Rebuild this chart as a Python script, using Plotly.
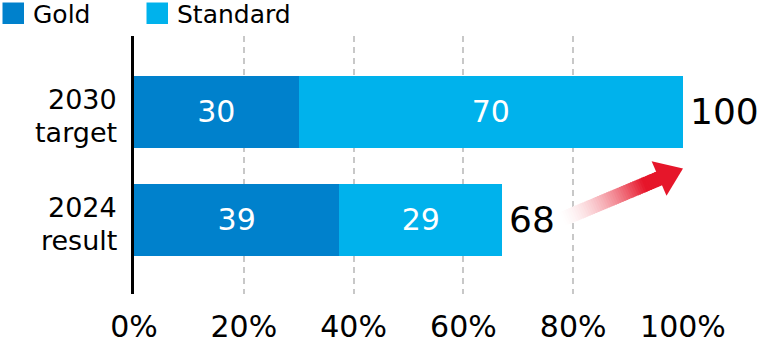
import numpy as np
import plotly.graph_objects as go

# ---------------- data ----------------
category_line1 = ["2030", "2024"]
category_line2 = ["target", "result"]
series_names = ["Gold", "Standard"]
gold_values = [30.0, 37.4]
standard_values = [70.0, 29.7]
gold_labels = ["30", "39"]
standard_labels = ["70", "29"]
total_labels = ["100", "68"]
x_ticks = [0, 20, 40, 60, 80, 100]
x_tick_labels = ["0%", "20%", "40%", "60%", "80%", "100%"]

# ---------------- style ----------------
FONT = "DejaVu Sans"
colors = ["#0081CC", "#00B2EC"]
RED = (230, 22, 42)
W, H = 760, 356
ML, MR, MT, MB = 134, 77, 36, 59
YR = [-0.686, 1.702]
PW, PH = W - ML - MR, H - MT - MB

n = len(category_line1)
ypos = [n - 1 - i for i in range(n)]
totals = [g + s for g, s in zip(gold_values, standard_values)]

fig = go.Figure()
fig.add_trace(go.Bar(
    y=ypos, x=gold_values, orientation="h", name=series_names[0],
    marker=dict(color=colors[0], line=dict(width=0)), width=0.66,
    text=gold_labels, texttemplate="%{text}", textposition="inside",
    insidetextanchor="middle", textangle=0,
    textfont=dict(family=FONT, size=30, color="white"), hoverinfo="skip"))
fig.add_trace(go.Bar(
    y=ypos, x=standard_values, orientation="h", name=series_names[1],
    marker=dict(color=colors[1], line=dict(width=0)), width=0.66,
    text=standard_labels, texttemplate="%{text}", textposition="inside",
    insidetextanchor="middle", textangle=0,
    textfont=dict(family=FONT, size=30, color="white"), hoverinfo="skip"))


# ---------------- gradient arrow (decoration from result total to target total) ----------------
def to_px(x, y):
    return ML + x / 100 * PW, MT + (YR[1] - y) / (YR[1] - YR[0]) * PH


def to_data(px, py):
    return (px - ML) / PW * 100, YR[1] - (py - MT) / PH * (YR[1] - YR[0])


mid_y = (ypos[0] + ypos[1]) / 2 - 0.024
tail = np.array(to_px(totals[1] + 10.6, ypos[1]))
tip = np.array(to_px(totals[0], mid_y))
d = tip - tail
L = np.hypot(*d)
u = d / L
nrm = np.array([-u[1], u[0]])
head_len, head_hw, shaft_hw = 26.0, 19.0, 7.5
base = tip - head_len * u
shaft_len = L - head_len
N = 45
for i in range(N):
    t0, t1 = i / N, (i + 1) / N
    p0 = tail + u * shaft_len * t0
    p1 = tail + u * (shaft_len * t1 + (1.0 if i < N - 1 else 2.0))
    tm = (t0 + t1) / 2
    a = min(1.0, tm / 0.85) ** 1.6
    c = tuple(int(round(255 * (1 - a) + RED[k] * a)) for k in range(3))
    pts = [p0 + shaft_hw * nrm, p1 + shaft_hw * nrm, p1 - shaft_hw * nrm, p0 - shaft_hw * nrm]
    dx, dy = zip(*[to_data(*p) for p in pts])
    fig.add_trace(go.Scatter(x=list(dx), y=list(dy), mode="lines", fill="toself",
                             fillcolor="rgb(%d,%d,%d)" % c, line=dict(width=0),
                             hoverinfo="skip", showlegend=False))
head_pts = [tip, base + head_hw * nrm, base - head_hw * nrm]
hx, hy = zip(*[to_data(*p) for p in head_pts])
fig.add_trace(go.Scatter(x=list(hx), y=list(hy), mode="lines", fill="toself",
                         fillcolor="rgb(%d,%d,%d)" % RED, line=dict(width=0),
                         hoverinfo="skip", showlegend=False))

annotations = []
# category labels (two lines each)
for i in range(n):
    annotations.append(dict(xref="paper", yref="y", x=0, y=ypos[i], xanchor="right", yanchor="bottom",
                            xshift=-16, yshift=-4, borderpad=0, text=category_line1[i], showarrow=False,
                            font=dict(family=FONT, size=27, color="black")))
    annotations.append(dict(xref="paper", yref="y", x=0, y=ypos[i], xanchor="right", yanchor="top",
                            xshift=-16, yshift=-4, borderpad=0, text=category_line2[i], showarrow=False,
                            font=dict(family=FONT, size=27, color="black")))
# totals
for i in range(n):
    annotations.append(dict(xref="x", yref="y", x=totals[i], y=ypos[i], xanchor="left", yanchor="middle",
                            xshift=5, text=total_labels[i], showarrow=False,
                            font=dict(family=FONT, size=36, color="black")))

# custom legend
shapes = []
legend_x = [-131.5, 12.5]
for k, name in enumerate(series_names):
    shapes.append(dict(type="rect", xref="paper", yref="paper", xsizemode="pixel", ysizemode="pixel",
                       xanchor=0, yanchor=1, x0=legend_x[k], x1=legend_x[k] + 21.5,
                       y0=12, y1=33.5, fillcolor=colors[k], line=dict(width=0)))
    annotations.append(dict(xref="paper", yref="paper", x=0, y=1, xanchor="left", yanchor="middle",
                            xshift=legend_x[k] + 28, yshift=22, text=name, showarrow=False,
                            font=dict(family=FONT, size=25, color="black")))

fig.update_layout(
    width=W, height=H, margin=dict(l=ML, r=MR, t=MT, b=MB),
    barmode="stack", showlegend=False,
    plot_bgcolor="white", paper_bgcolor="white",
    annotations=annotations, shapes=shapes,
    xaxis=dict(range=[0, 100], tickvals=x_ticks, ticktext=x_tick_labels, ticks="",
               showgrid=True, gridcolor="#C8C8C8", gridwidth=1.5, griddash="6px,5px",
               zeroline=False, showline=False, ticklabelstandoff=12,
               tickfont=dict(family=FONT, size=30, color="black"), fixedrange=True),
    yaxis=dict(range=YR, showticklabels=False, showgrid=False, zeroline=False,
               showline=True, linecolor="black", linewidth=3, ticks="", fixedrange=True),
)
fig.write_html("out.html")
